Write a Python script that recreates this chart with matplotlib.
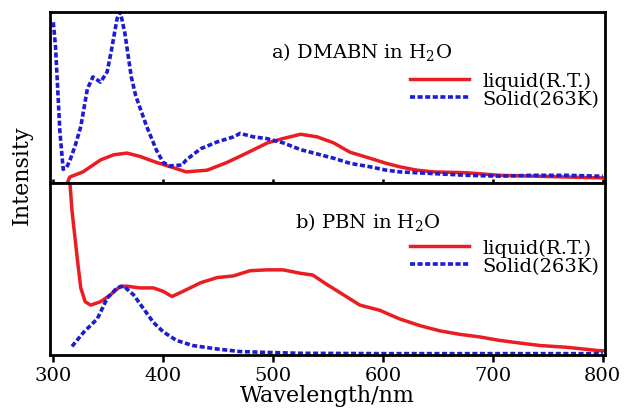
import matplotlib
matplotlib.use('Agg')
import matplotlib.pyplot as plt

plt.rcParams['font.family'] = ['DejaVu Serif']
plt.rcParams['mathtext.fontset'] = 'dejavuserif'

RED = '#ea1d23'
BLUE = '#1c1cd2'

# a) DMABN in H2O
a_solid_wl = [300, 302, 304, 306, 309, 312, 315, 320, 325, 331, 336, 343, 349, 353, 358, 361,
              365, 371, 375, 385, 394, 400, 406, 417, 421, 434, 449, 464, 470, 482, 494, 509,
              525, 540, 555, 570, 588, 603, 615, 646, 676, 706, 737, 767, 797, 800]
a_solid_i = [0.94, 0.80, 0.55, 0.30, 0.08, 0.09, 0.13, 0.22, 0.33, 0.55, 0.62, 0.59, 0.65, 0.78,
             0.96, 1.00, 0.88, 0.62, 0.51, 0.33, 0.19, 0.12, 0.10, 0.105, 0.135, 0.20, 0.24, 0.27,
             0.29, 0.27, 0.26, 0.235, 0.195, 0.17, 0.145, 0.115, 0.095, 0.075, 0.065, 0.055, 0.045,
             0.04, 0.045, 0.045, 0.04, 0.04]
a_liquid_wl = [313, 315, 327, 343, 355, 367, 379, 394, 409, 421, 440, 458, 476, 495, 509, 525,
               540, 555, 570, 588, 603, 615, 631, 646, 676, 706, 737, 767, 797, 800]
a_liquid_i = [0.005, 0.035, 0.065, 0.135, 0.165, 0.175, 0.155, 0.12, 0.09, 0.065, 0.075, 0.12,
              0.175, 0.235, 0.26, 0.285, 0.27, 0.235, 0.18, 0.145, 0.115, 0.095, 0.075, 0.065,
              0.06, 0.045, 0.04, 0.035, 0.03, 0.03]

# b) PBN in H2O
b_liquid_wl = [311, 314, 317, 322, 325, 329, 334, 343, 352, 361, 367, 379, 391, 400, 408, 418,
               434, 449, 464, 479, 494, 509, 525, 536, 549, 564, 579, 597, 615, 634, 652, 670,
               688, 706, 724, 743, 767, 797, 800]
b_liquid_i = [1.4, 1.1, 0.84, 0.55, 0.39, 0.31, 0.29, 0.31, 0.35, 0.40, 0.40, 0.39, 0.39, 0.37,
              0.34, 0.37, 0.42, 0.45, 0.46, 0.49, 0.495, 0.495, 0.475, 0.465, 0.41, 0.35, 0.29,
              0.26, 0.21, 0.17, 0.14, 0.12, 0.105, 0.085, 0.07, 0.055, 0.045, 0.025, 0.025]
b_solid_wl = [317, 328, 340, 349, 358, 364, 373, 382, 391, 400, 412, 427, 449, 470, 494, 525,
              600, 700, 800]
b_solid_i = [0.05, 0.135, 0.21, 0.33, 0.39, 0.40, 0.35, 0.27, 0.19, 0.135, 0.085, 0.055, 0.035,
             0.02, 0.015, 0.01, 0.008, 0.008, 0.008]

xticks = [300, 400, 500, 600, 700, 800]

fig = plt.figure(figsize=(6.26, 4.10), dpi=100)
ax_a = fig.add_axes([50 / 626, 1 - 184 / 410, 555 / 626, 171 / 410])
ax_b = fig.add_axes([50 / 626, 1 - 356 / 410, 555 / 626, 172 / 410], sharex=ax_a)

dash = (0, (1.4, 0.7))
ax_a.plot(a_liquid_wl, a_liquid_i, color=RED, lw=2.5, label='liquid(R.T.)')
ax_a.plot(a_solid_wl, a_solid_i, color=BLUE, lw=2.6, ls=dash, label='Solid(263K)')
ax_b.plot(b_liquid_wl, b_liquid_i, color=RED, lw=2.5, label='liquid(R.T.)')
ax_b.plot(b_solid_wl, b_solid_i, color=BLUE, lw=2.6, ls=dash, label='Solid(263K)')

for ax in (ax_a, ax_b):
    ax.set_xlim(297, 802)
    ax.set_ylim(0, 1.0)
    ax.set_yticks([])
    ax.set_xticks(xticks)
    for s in ax.spines.values():
        s.set_linewidth(2.0)
    ax.tick_params(axis='x', direction='out', length=5, width=1.8, labelsize=14, pad=3)

ax_a.tick_params(axis='x', labelbottom=False, direction='inout', length=6)

ax_a.text(498, 0.77, r'a) DMABN in H$_2$O', fontsize=14, va='center', ha='left')
ax_b.text(520, 0.78, r'b) PBN in H$_2$O', fontsize=14, va='center', ha='left')

for ax, ytop in ((ax_a, (184 - 67) / 171), (ax_b, (356 - 234) / 172)):
    ax.legend(loc='upper right', bbox_to_anchor=(1.0, ytop), frameon=False, fontsize=14,
              handlelength=3.0, handletextpad=0.7, labelspacing=0.0, borderpad=0.1,
              borderaxespad=0.2)

ax_b.set_xlabel('Wavelength/nm', fontsize=16, labelpad=0)
fig.text(22 / 626, 1 - 175 / 410, 'Intensity', rotation=90, fontsize=16,
         va='center', ha='center')

fig.savefig('out.png', dpi=100)
